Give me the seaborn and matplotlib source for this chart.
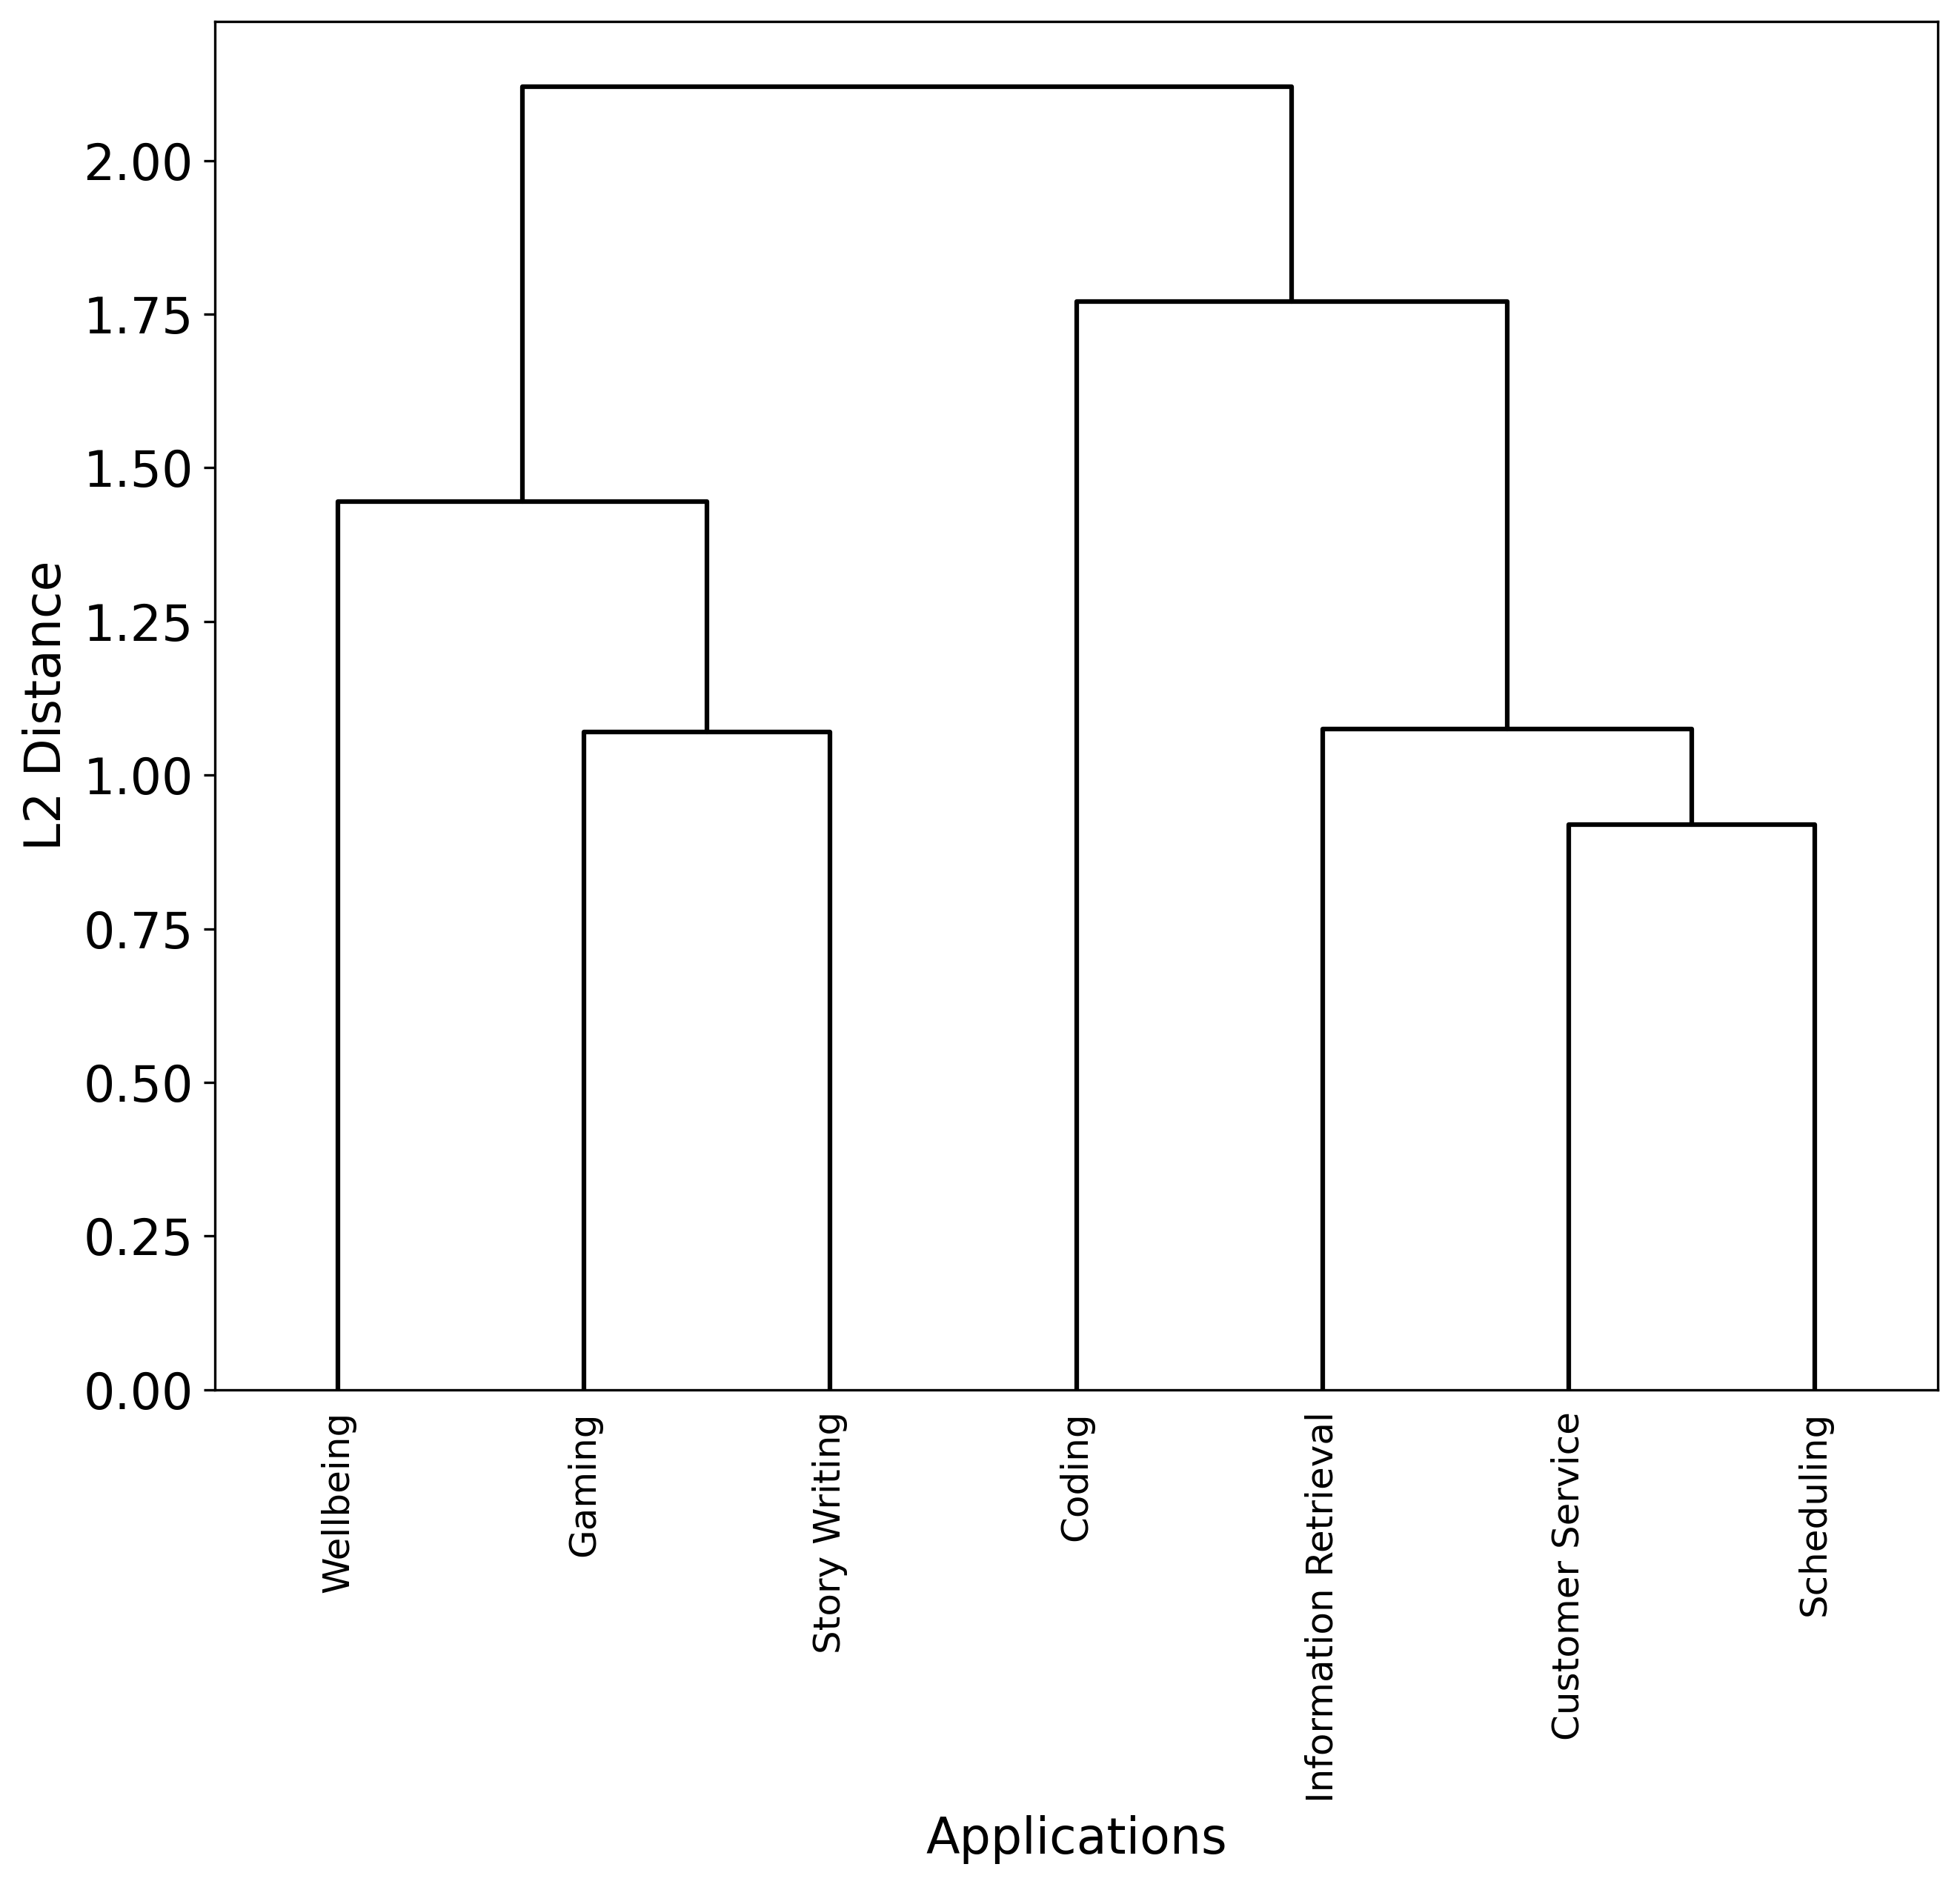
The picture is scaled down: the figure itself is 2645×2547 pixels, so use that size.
import numpy as np
import pandas as pd
import matplotlib
matplotlib.use("Agg")
import matplotlib.pyplot as plt
import matplotlib.ticker as mticker
import seaborn as sns

# Leaves in display order
applications = ["Wellbeing", "Gaming", "Story Writing", "Coding",
                "Information Retrieval", "Customer Service", "Scheduling"]

# Merge steps (scipy-style): ids 0..6 are leaves, new clusters get 7, 8, ...
merge_left = [1, 5, 4, 0, 3, 10]
merge_right = [2, 6, 8, 7, 9, 11]
merge_height = [1.07, 0.92, 1.075, 1.445, 1.77, 2.12]

sns.set_style("ticks", rc={"text.color": "black", "axes.labelcolor": "black",
                           "xtick.color": "black", "ytick.color": "black",
                           "axes.edgecolor": "black"})
plt.rcParams['font.family'] = ['DejaVu Sans']

# leaf positions like scipy (5, 15, 25, ...)
pos = {i: 5 + 10 * i for i in range(len(applications))}
hgt = {i: 0.0 for i in range(len(applications))}

rows = []
for k, (a, b, h) in enumerate(zip(merge_left, merge_right, merge_height)):
    cid = len(applications) + k
    xs = [pos[a], pos[a], pos[b], pos[b]]
    ys = [hgt[a], h, h, hgt[b]]
    for order, (x, y) in enumerate(zip(xs, ys)):
        rows.append({"link": cid, "order": order, "x": x, "y": y})
    pos[cid] = (pos[a] + pos[b]) / 2
    hgt[cid] = h

links = pd.DataFrame(rows)

fig, ax = plt.subplots(figsize=(2645 / 300, 2547 / 300), dpi=300)
fig.subplots_adjust(left=0.1097, right=0.9887, top=0.9886, bottom=0.2635)

sns.lineplot(data=links, x="x", y="y", units="link", estimator=None, sort=False,
             color="black", linewidth=1.5, ax=ax, legend=False)

ax.set_xlim(0, 10 * len(applications))
ax.set_ylim(0, max(merge_height) * 1.05)
ax.set_xticks([5 + 10 * i for i in range(len(applications))])
ax.set_xticklabels(applications, rotation=90, fontsize=12)
ax.tick_params(axis="x", length=0, pad=7)
ax.yaxis.set_major_locator(mticker.MultipleLocator(0.25))
ax.yaxis.set_major_formatter(mticker.FormatStrFormatter("%.2f"))
ax.tick_params(axis="y", labelsize=16)
ax.set_xlabel("Applications", fontsize=16)
ax.set_ylabel("L2 Distance", fontsize=16)
for s in ax.spines.values():
    s.set_visible(True)
    s.set_color("black")

plt.savefig("out.png", dpi=300)
